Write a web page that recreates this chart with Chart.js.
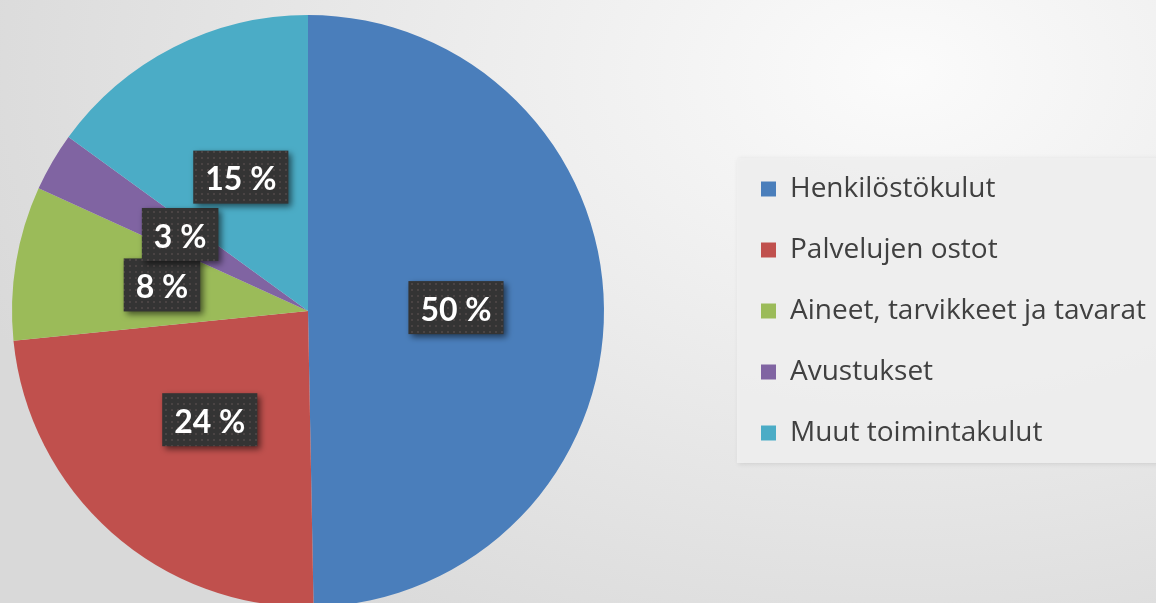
<!DOCTYPE html>
<html>
<head>
<meta charset="utf-8">
<script src="https://cdn.jsdelivr.net/npm/chart.js@4.4.1/dist/chart.umd.min.js"></script>
<style>
html,body{margin:0;padding:0;width:1156px;height:603px;overflow:hidden;}
body{background:radial-gradient(ellipse 85% 110% at 78% 12%, #fbfbfb 0%, #ececec 45%, #d9d9d9 100%);position:relative;}
#wrap{position:absolute;top:0;height:622px;}
</style>
</head>
<body>
<div id="wrap"><canvas id="c"></canvas></div>
<script>
const categories = ['Henkilöstökulut', 'Palvelujen ostot', 'Aineet, tarvikkeet ja tavarat', 'Avustukset', 'Muut toimintakulut'];
const shares = [49.7, 23.7, 8.4, 3.2, 15.0];
const sliceColors = ['#4a7ebb', '#c0504d', '#9bbb59', '#8064a2', '#4bacc6'];

const LEGEND_FONT_SIZE = 28;
const LEGEND_FONT_FAMILY = 'Open Sans';
const LEGEND_BOX = 15;
const LEGEND_PAD = 33;
const PIE_CENTER_X = 308;
const PAGE_W = 1156;

// widen the canvas to the left so the pie centre lands where it does in the reference
const mctx = document.createElement('canvas').getContext('2d');
mctx.font = LEGEND_FONT_SIZE + 'px "' + LEGEND_FONT_FAMILY + '"';
const maxText = Math.max(...categories.map(t => mctx.measureText(t).width));
const legendWidth = LEGEND_PAD + LEGEND_BOX + LEGEND_FONT_SIZE / 2 + maxText + 10;
const shift = Math.max(0, Math.round(PAGE_W - legendWidth - 2 * PIE_CENTER_X));
const wrap = document.getElementById('wrap');
wrap.style.left = (-shift) + 'px';
wrap.style.width = (PAGE_W + shift) + 'px';

// textured dark label fill
const tile = document.createElement('canvas');
tile.width = 6; tile.height = 6;
const tctx = tile.getContext('2d');
tctx.fillStyle = '#343434'; tctx.fillRect(0, 0, 6, 6);
tctx.fillStyle = '#4a4444'; tctx.fillRect(1, 1, 2, 2);

const legendBoxPlugin = {
  id: 'legendBox',
  beforeDraw(chart) {
    const lg = chart.legend;
    if (!lg || !lg.legendHitBoxes || !lg.legendHitBoxes.length) return;
    const hb = lg.legendHitBoxes;
    const left = hb[0].left - 24;
    const top = hb[0].top - 17;
    const bottom = hb[hb.length - 1].top + hb[hb.length - 1].height + 16;
    const ctx = chart.ctx;
    ctx.save();
    ctx.shadowColor = 'rgba(0,0,0,0.12)';
    ctx.shadowBlur = 5;
    ctx.shadowOffsetX = 1; ctx.shadowOffsetY = 1;
    ctx.fillStyle = 'rgba(240,240,240,0.9)';
    ctx.fillRect(left, top, chart.width - left + 10, bottom - top);
    ctx.restore();
  }
};

const labelPlugin = {
  id: 'pctLabels',
  afterDatasetsDraw(chart) {
    const ctx = chart.ctx;
    const pattern = ctx.createPattern(tile, 'repeat');
    const meta = chart.getDatasetMeta(0);
    ctx.save();
    ctx.font = 'bold 32px Lato';
    meta.data.forEach((arc, i) => {
      const p = arc.getCenterPoint();
      const txt = Math.round(shares[i]) + ' %';
      const w = ctx.measureText(txt).width + 24;
      const h = 53;
      ctx.save();
      ctx.shadowColor = 'rgba(0,0,0,0.55)';
      ctx.shadowBlur = 6;
      ctx.shadowOffsetX = 3; ctx.shadowOffsetY = 3;
      ctx.fillStyle = pattern;
      ctx.fillRect(p.x - w / 2, p.y - h / 2 - 2, w, h);
      ctx.restore();
      ctx.fillStyle = '#ffffff';
      ctx.textAlign = 'center';
      ctx.textBaseline = 'middle';
      ctx.fillText(txt, p.x, p.y + 1);
    });
    ctx.restore();
  }
};

new Chart(document.getElementById('c'), {
  type: 'pie',
  data: {
    labels: categories,
    datasets: [{
      data: shares,
      backgroundColor: sliceColors,
      borderWidth: 0,
      hoverOffset: 0,
      offset: 0
    }]
  },
  options: {
    responsive: true,
    maintainAspectRatio: false,
    animation: false,
    layout: { padding: { left: 0, right: 0, top: 15, bottom: 15 } },
    plugins: {
      tooltip: { enabled: false },
      legend: {
        position: 'right',
        labels: {
          boxWidth: LEGEND_BOX,
          boxHeight: LEGEND_BOX,
          padding: LEGEND_PAD,
          color: '#404040',
          font: { family: LEGEND_FONT_FAMILY, size: LEGEND_FONT_SIZE }
        }
      }
    }
  },
  plugins: [legendBoxPlugin, labelPlugin]
});
</script>
</body>
</html>
